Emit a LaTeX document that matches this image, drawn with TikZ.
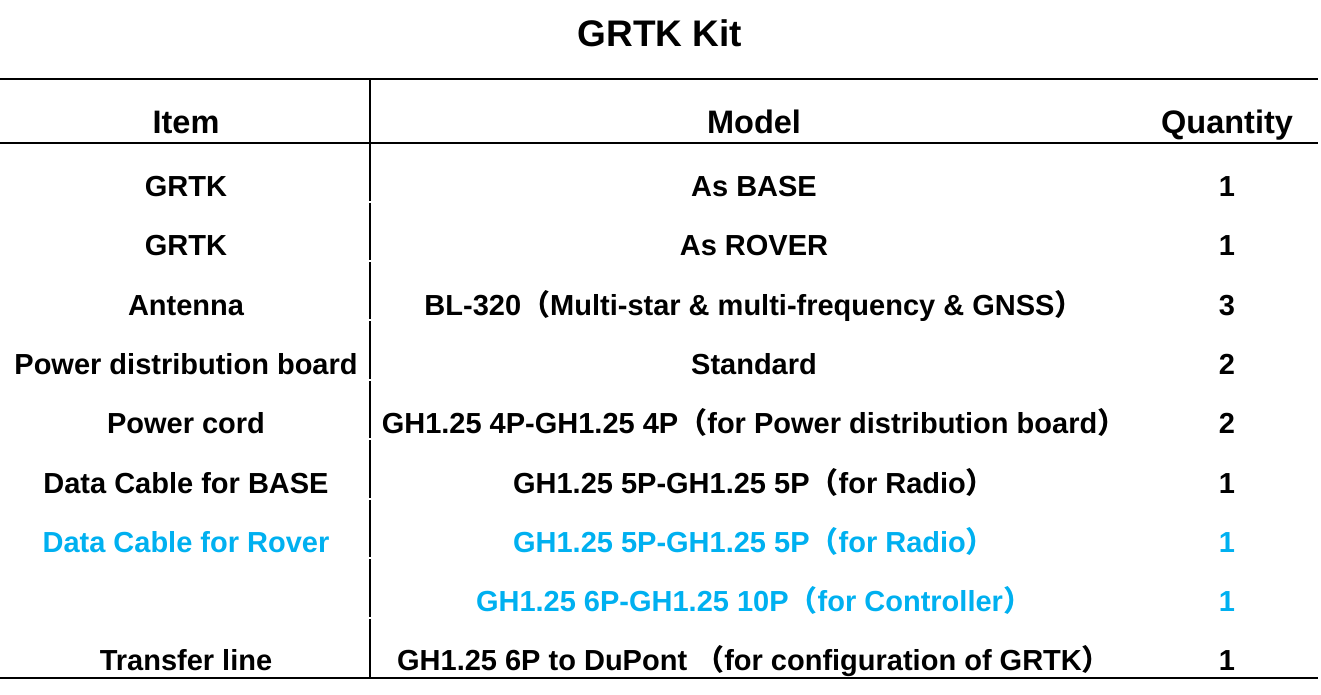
\documentclass[tikz,border=0pt]{standalone}
\usepackage{fontspec}
\setmainfont{Liberation Sans}
\newfontfamily\cjkfont{Noto Sans CJK SC}
\newcommand\LPar{{\cjkfont\bfseries （}}
\newcommand\RPar{{\cjkfont\bfseries ）}}
\definecolor{rowblue}{HTML}{00B0F0}
\begin{document}
\begin{tikzpicture}[x=1pt,y=-1pt,
  cell/.style={anchor=base,inner sep=0pt,font=\fontsize{29}{31}\selectfont\bfseries},
  head/.style={anchor=base,inner sep=0pt,font=\fontsize{32.5}{34}\selectfont\bfseries},
  ttl/.style={anchor=base,inner sep=0pt,font=\fontsize{37}{40}\selectfont\bfseries},
  thick rule/.style={line width=2pt,black},
  thin rule/.style={line width=1.3pt,black},
  vrule/.style={line width=1.5pt,black},
  blue/.style={text=rowblue}]
\useasboundingbox (0,0) rectangle (1321,695);
% title
\node[ttl] (title) at (660,47) {GRTK Kit};
% rules
\draw[thick rule] (0,79) -- (1318,79);
\draw[thin rule] (0,143) -- (1318,143);
\draw[thick rule] (0,677.5) -- (1318,677.5);
\foreach \a/\b in {79/200.5,202.5/260,262/319.4,321.4/378.9,380.9/438.3,440.3/497.8,499.8/557.2,559.2/616.7,618.7/677}
  \draw[vrule] (370,\a) -- (370,\b);
% header
\node[head] (hItem) at (186,134) {Item};
\node[head] (hModel) at (754,134) {Model};
\node[head] (hQty) at (1227,134) {Quantity};
% rows
\node[cell] (i1) at (186,196.5) {GRTK};
\node[cell] (m1) at (754,196.5) {As BASE};
\node[cell] (q1) at (1227,196.5) {1};
\node[cell] (i2) at (186,255.8) {GRTK};
\node[cell] (m2) at (754,255.8) {As ROVER};
\node[cell] (q2) at (1227,255.8) {1};
\node[cell] (i3) at (186,315.1) {Antenna};
\node[cell] (m3) at (754,315.1) {BL-320\LPar Multi-star \& multi-frequency \& GNSS\RPar};
\node[cell] (q3) at (1227,315.1) {3};
\node[cell] (i4) at (186,374.4) {Power distribution board};
\node[cell] (m4) at (754,374.4) {Standard};
\node[cell] (q4) at (1227,374.4) {2};
\node[cell] (i5) at (186,433.7) {Power cord};
\node[cell] (m5) at (754,433.7) {GH1.25 4P-GH1.25 4P\LPar for Power distribution board\RPar};
\node[cell] (q5) at (1227,433.7) {2};
\node[cell] (i6) at (186,493) {Data Cable for BASE};
\node[cell] (m6) at (754,493) {GH1.25 5P-GH1.25 5P\LPar for Radio\RPar};
\node[cell] (q6) at (1227,493) {1};
\node[cell,blue] (i7) at (186,552.3) {Data Cable for Rover};
\node[cell,blue] (m7) at (754,552.3) {GH1.25 5P-GH1.25 5P\LPar for Radio\RPar};
\node[cell,blue] (q7) at (1227,552.3) {1};
\node[cell,blue] (m8) at (754,611.6) {GH1.25 6P-GH1.25 10P\LPar for Controller\RPar};
\node[cell,blue] (q8) at (1227,611.6) {1};
\node[cell] (i9) at (186,670.9) {Transfer line};
\node[cell] (m9) at (754,670.9) {GH1.25 6P to DuPont \LPar for configuration of GRTK\RPar};
\node[cell] (q9) at (1227,670.9) {1};
\end{tikzpicture}
\end{document}
